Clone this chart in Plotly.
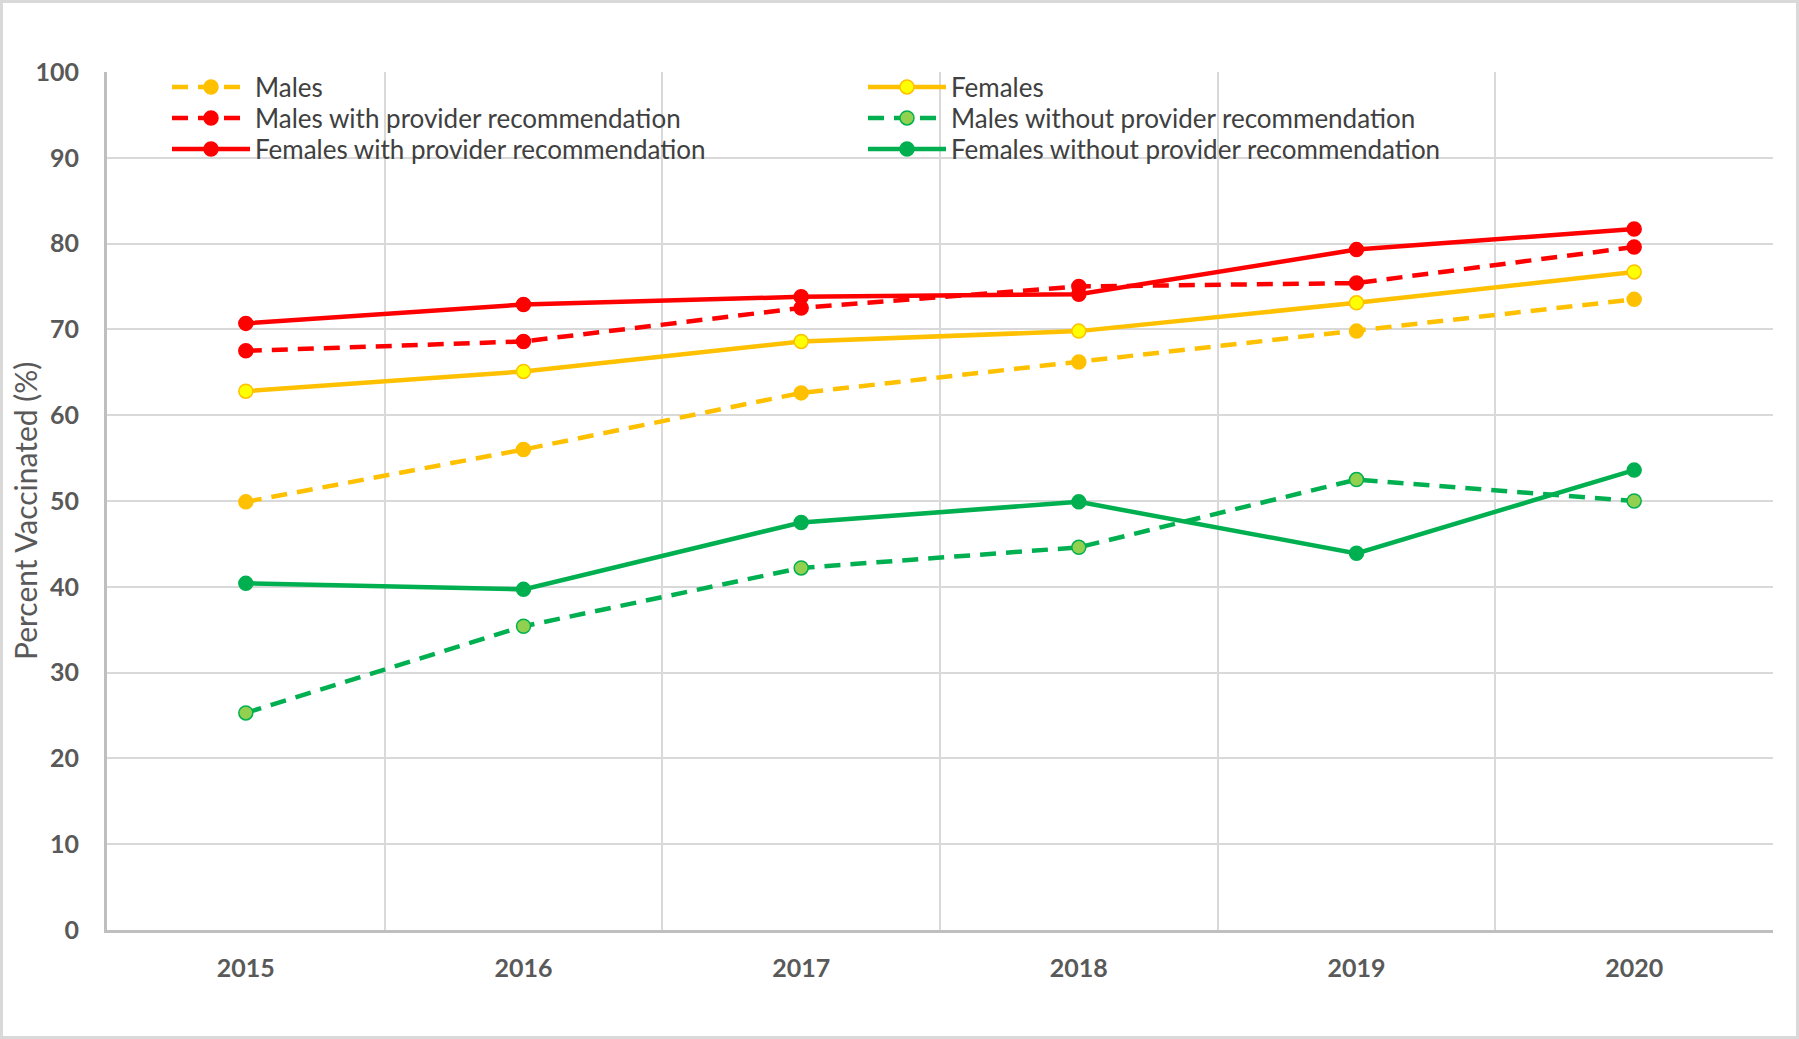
import plotly.graph_objects as go

years = ["2015", "2016", "2017", "2018", "2019", "2020"]

males = [49.9, 56.0, 62.6, 66.2, 69.8, 73.5]
females = [62.8, 65.1, 68.6, 69.8, 73.1, 76.7]
males_with_rec = [67.5, 68.6, 72.5, 75.0, 75.4, 79.6]
females_with_rec = [70.7, 72.9, 73.8, 74.1, 79.3, 81.7]
males_without_rec = [25.3, 35.4, 42.2, 44.6, 52.5, 50.0]
females_without_rec = [40.4, 39.7, 47.5, 49.9, 43.9, 53.6]

y_ticks = [0, 10, 20, 30, 40, 50, 60, 70, 80, 90, 100]

ORANGE = "#FFC000"
YELLOW = "#FFFF00"
RED = "#FF0000"
GREEN = "#00B050"
LGREEN = "#92D050"
DASH = "16px,10px"

W, H = 1799, 1039
ML, MR, MT, MB = 107, 26, 72, 109
plot_w = W - ML - MR
plot_h = H - MT - MB

# (name, values, line colour, dash, marker fill, marker edge, legend column, legend row)
series = [
    ("Males", males, ORANGE, DASH, ORANGE, ORANGE, 0, 0),
    ("Females", females, ORANGE, "solid", YELLOW, ORANGE, 1, 0),
    ("Males with provider recommendation", males_with_rec, RED, DASH, RED, RED, 0, 1),
    ("Males without provider recommendation", males_without_rec, GREEN, DASH, LGREEN, GREEN, 1, 1),
    ("Females with provider recommendation", females_with_rec, RED, "solid", RED, RED, 0, 2),
    ("Females without provider recommendation", females_without_rec, GREEN, "solid", GREEN, GREEN, 1, 2),
]

font_family = "Lato, 'Open Sans', sans-serif"

col_px = [167, 863]
row_px = [87, 118, 149]

fig = go.Figure()
legend_layouts = {}
for i, (name, vals, lc, dash, mfill, mline, col, row) in enumerate(series):
    lg = "legend" if i == 0 else f"legend{i + 1}"
    fig.add_trace(go.Scatter(
        x=years, y=vals, name=name, mode="lines+markers",
        line=dict(color=lc, width=4.5, dash=dash),
        marker=dict(size=14, color=mfill, line=dict(color=mline, width=1.5)),
        legend=lg,
    ))
    legend_layouts[lg] = dict(
        x=(col_px[col] - ML) / plot_w,
        y=1 - (row_px[row] - MT) / plot_h,
        xanchor="left", yanchor="middle",
        bgcolor="rgba(0,0,0,0)",
        font=dict(size=26, color="#404040", family=font_family),
        itemwidth=78,
    )

fig.update_layout(
    width=W, height=H,
    margin=dict(l=ML, r=MR, t=MT, b=MB, pad=0),
    paper_bgcolor="white", plot_bgcolor="white",
    font=dict(family=font_family, color="#595959"),
    showlegend=True,
    xaxis=dict(
        type="category",
        tickson="boundaries",
        showgrid=True, gridcolor="#D9D9D9", gridwidth=2,
        showline=True, linecolor="#BFBFBF", linewidth=3,
        ticks="", ticklabelstandoff=14,
        tickfont=dict(size=25, color="#595959", family=font_family, weight="bold"),
        range=[-0.5, 5.5],
        zeroline=False,
    ),
    yaxis=dict(
        range=[0, 100],
        tickmode="array", tickvals=y_ticks, ticktext=[str(v) for v in y_ticks],
        showgrid=True, gridcolor="#D9D9D9", gridwidth=2,
        showline=True, linecolor="#BFBFBF", linewidth=3,
        ticks="", ticklabelstandoff=20,
        tickfont=dict(size=25, color="#595959", family=font_family, weight="bold"),
        zeroline=False,
    ),
    **legend_layouts,
)

fig.add_annotation(
    text="Percent Vaccinated (%)",
    xref="paper", yref="paper",
    x=(25 - ML) / plot_w, y=0.5 - 10 / plot_h,
    xanchor="center", yanchor="middle",
    textangle=-90, showarrow=False,
    font=dict(size=30, color="#595959", family=font_family),
)

fig.add_shape(
    type="rect", xref="paper", yref="paper",
    x0=(1.5 - ML) / plot_w, x1=1 + (MR - 1.5) / plot_w,
    y0=-(MB - 1.5) / plot_h, y1=1 + (MT - 1.5) / plot_h,
    line=dict(color="#D9D9D9", width=3), fillcolor="rgba(0,0,0,0)",
    layer="below",
)

fig.write_html(
    "out.html",
    config={"displayModeBar": False},
    post_script="document.body.style.margin='0';",
)
